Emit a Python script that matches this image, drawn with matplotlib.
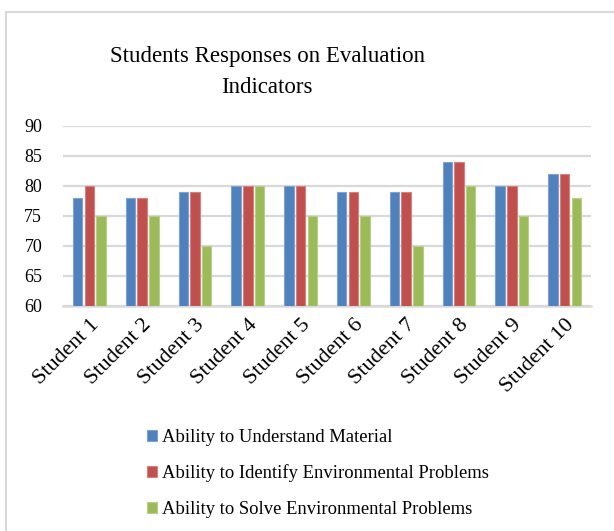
import matplotlib
matplotlib.use("Agg")
import matplotlib.pyplot as plt
import numpy as np
from matplotlib.patches import Rectangle

plt.rcParams['font.family'] = ['Liberation Serif', 'DejaVu Serif']

students = ["Student 1", "Student 2", "Student 3", "Student 4", "Student 5",
            "Student 6", "Student 7", "Student 8", "Student 9", "Student 10"]
understand = [78, 78, 79, 80, 80, 79, 79, 84, 80, 82]
identify = [80, 78, 79, 80, 80, 79, 79, 84, 80, 82]
solve = [75, 75, 70, 80, 75, 75, 70, 80, 75, 78]
series_names = ["Ability to Understand Material",
                "Ability to Identify Environmental Problems",
                "Ability to Solve Environmental Problems"]
colors = ["#4F81BD", "#C0504D", "#9BBB59"]
edges = ["#7FA3D0", "#D48280", "#B7CF8A"]
yticks = [60, 65, 70, 75, 80, 85, 90]

W, H = 614, 531
fig = plt.figure(figsize=(W / 100, H / 100), dpi=100)
fig.patches.append(Rectangle((6 / W, -0.01), 1.0, 1 - 12 / H + 0.01, transform=fig.transFigure,
                             fill=False, edgecolor="#D9D9D9", linewidth=1.5))

ax = fig.add_axes([63 / W, 1 - 306 / H, (591 - 63) / W, (306 - 126) / H])
x = np.arange(len(students))
bw = 0.18
step = 0.222
conts = []
for i, (vals, c, e, name) in enumerate(zip([understand, identify, solve], colors, edges, series_names)):
    bars = ax.bar(x + (i - 1) * step, np.array(vals) - 60, bottom=60, width=bw, color=c,
                  edgecolor=e, linewidth=0.8, label=name, zorder=3)
    conts.append(bars)

ax.set_xlim(-0.5, len(students) - 0.5)
ax.set_ylim(60, 90)
ax.set_yticks(yticks)
ax.set_yticklabels([str(t) for t in yticks], fontsize=13)
ax.yaxis.grid(True, color="#D9D9D9", linewidth=1.6, zorder=0)
ax.set_axisbelow(True)
for s in ["top", "right", "left"]:
    ax.spines[s].set_visible(False)
ax.spines["bottom"].set_color("#D9D9D9")
ax.spines["bottom"].set_linewidth(1.8)
ax.tick_params(axis="both", length=0)
ax.tick_params(axis="y", pad=15)
ax.set_xticks(x)
ax.set_xticklabels(students, rotation=45, ha="right", va="top", rotation_mode="anchor", fontsize=16)
ax.tick_params(axis="x", pad=7)

fig.text(267 / W, 1 - 72 / H, "Students Responses on Evaluation\nIndicators", ha="center",
         va="center", fontsize=16.5, linespacing=1.6)

leg = fig.legend(handles=conts, labels=series_names, loc="upper left",
                 bbox_to_anchor=(130 / W, 1 - 412 / H), frameon=False, fontsize=13.4,
                 handlelength=0.55, handleheight=0.55, handletextpad=0.25, labelspacing=1.0)

fig.savefig("out.png", dpi=100)
